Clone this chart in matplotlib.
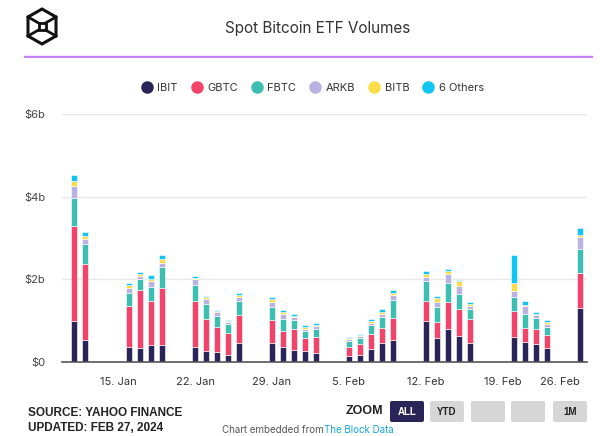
import pandas as pd
import matplotlib.pyplot as plt
import matplotlib.dates as mdates
from matplotlib.lines import Line2D
from matplotlib.patches import FancyBboxPatch, Polygon

plt.rcParams['font.family'] = ['Inter', 'DejaVu Sans']

# daily volumes, $ billions
dates = pd.to_datetime([
    '2024-01-11', '2024-01-12', '2024-01-16', '2024-01-17', '2024-01-18', '2024-01-19',
    '2024-01-22', '2024-01-23', '2024-01-24', '2024-01-25', '2024-01-26',
    '2024-01-29', '2024-01-30', '2024-01-31', '2024-02-01', '2024-02-02',
    '2024-02-05', '2024-02-06', '2024-02-07', '2024-02-08', '2024-02-09',
    '2024-02-12', '2024-02-13', '2024-02-14', '2024-02-15', '2024-02-16',
    '2024-02-20', '2024-02-21', '2024-02-22', '2024-02-23', '2024-02-26'])
ibit = [0.99, 0.53, 0.36, 0.34, 0.40, 0.40, 0.37, 0.27, 0.23, 0.18, 0.45,
        0.45, 0.37, 0.29, 0.27, 0.22, 0.14, 0.17, 0.32, 0.45, 0.54,
        0.99, 0.57, 0.81, 0.64, 0.46, 0.61, 0.48, 0.43, 0.33, 1.30]
gbtc = [2.29, 1.85, 1.00, 1.40, 1.07, 1.38, 1.10, 0.77, 0.61, 0.52, 0.68,
        0.56, 0.39, 0.51, 0.32, 0.39, 0.23, 0.26, 0.35, 0.38, 0.53,
        0.48, 0.40, 0.64, 0.64, 0.58, 0.62, 0.35, 0.36, 0.32, 0.86]
fbtc = [0.69, 0.47, 0.32, 0.28, 0.34, 0.51, 0.40, 0.37, 0.27, 0.22, 0.34,
        0.32, 0.28, 0.21, 0.16, 0.19, 0.13, 0.14, 0.22, 0.27, 0.43,
        0.48, 0.35, 0.46, 0.37, 0.24, 0.34, 0.32, 0.27, 0.20, 0.58]
arkb = [0.30, 0.12, 0.12, 0.06, 0.14, 0.11, 0.13, 0.11, 0.10, 0.05, 0.10,
        0.13, 0.11, 0.08, 0.06, 0.06, 0.05, 0.06, 0.06, 0.07, 0.11,
        0.10, 0.13, 0.21, 0.19, 0.07, 0.14, 0.20, 0.08, 0.08, 0.28]
bitb = [0.10, 0.08, 0.06, 0.04, 0.06, 0.10, 0.04, 0.05, 0.03, 0.02, 0.05,
        0.06, 0.05, 0.03, 0.03, 0.03, 0.02, 0.02, 0.04, 0.05, 0.06,
        0.08, 0.09, 0.07, 0.11, 0.05, 0.19, 0.04, 0.03, 0.03, 0.06]
others = [0.16, 0.10, 0.06, 0.05, 0.10, 0.09, 0.05, 0.02, 0.02, 0.03, 0.04,
          0.05, 0.06, 0.05, 0.06, 0.05, 0.04, 0.02, 0.06, 0.06, 0.07,
          0.08, 0.05, 0.07, 0.04, 0.05, 0.68, 0.08, 0.05, 0.05, 0.17]

names = ['IBIT', 'GBTC', 'FBTC', 'ARKB', 'BITB', '6 Others']
colors = ['#2a2458', '#f2436b', '#3cbfb1', '#b9b2e3', '#fbdd4b', '#12c5f1']
series = [ibit, gbtc, fbtc, arkb, bitb, others]
yticks = [0, 2, 4, 6]
ytick_labels = ['$0', '$2b', '$4b', '$6b']

fig = plt.figure(figsize=(6, 4.36), dpi=100)
ax = fig.add_axes([62 / 600, 74 / 436, 525 / 600, 248 / 436])

bottom = [0.0] * len(dates)
for vals, col in zip(series, colors):
    ax.bar(dates, vals, width=0.58, bottom=bottom, color=col,
           edgecolor='white', linewidth=0.4, zorder=3)
    bottom = [b + v for b, v in zip(bottom, vals)]

ax.set_ylim(0, 6)
ax.set_yticks(yticks)
ax.set_yticklabels(ytick_labels)
ax.set_xlim(dates[0] - pd.Timedelta(days=1.1), dates[-1] + pd.Timedelta(days=0.65))
ax.xaxis.set_major_locator(mdates.WeekdayLocator(byweekday=mdates.MO))
ax.xaxis.set_major_formatter(mdates.DateFormatter('%-d. %b'))
ax.grid(axis='y', color='#e8e8e8', linewidth=1, zorder=0)
for s in ['top', 'right', 'left']:
    ax.spines[s].set_visible(False)
ax.spines['bottom'].set_color('#555555')
ax.spines['bottom'].set_linewidth(1.2)
ax.spines['bottom'].set_zorder(4)
ax.tick_params(axis='both', length=0, labelsize=8, colors='#444444')
ax.tick_params(axis='x', pad=11)
ax.tick_params(axis='y', pad=12)
for lab in ax.get_xticklabels():
    lab.set_color('#333333')
xl = ax.get_xticklabels()
xl[-1].set_horizontalalignment('right')
xl[-1].set_x(mdates.date2num(dates[-1]) + 1.7)

# overlay in pixel coordinates for the decorations
ov = fig.add_axes([0, 0, 1, 1], zorder=-1)
ov.set_xlim(0, 600)
ov.set_ylim(436, 0)
ov.axis('off')

# logo
hexagon = [(42, 9), (56, 17), (56, 36), (42, 44), (28, 36), (28, 17)]
ov.add_patch(Polygon(hexagon, closed=True, fill=False, edgecolor='#111111',
                     linewidth=2.2, joinstyle='miter'))
sq = [(38.5, 23), (45.5, 23), (45.5, 30), (38.5, 30)]
ov.add_patch(Polygon(sq, closed=True, fill=False, edgecolor='#111111', linewidth=2))
for (x0, y0), (x1, y1) in zip([hexagon[5], hexagon[1], hexagon[2], hexagon[4]],
                              [sq[0], sq[1], sq[2], sq[3]]):
    ov.plot([x0, x1], [y0, y1], color='#111111', lw=2)

ov.text(318, 28, 'Spot Bitcoin ETF Volumes', ha='center', va='center',
        fontsize=11, color='#333333')
ov.plot([25, 592], [55, 55], color='#f5e6fb', lw=1)
ov.plot([25, 592], [57, 57], color='#c680f5', lw=1.4)

handles = [Line2D([], [], marker='o', linestyle='', markersize=8,
                  markerfacecolor=c, markeredgecolor=c) for c in colors]
fig.legend(handles, names, loc='center', bbox_to_anchor=(312 / 600, 1 - 88 / 436),
           ncol=6, frameon=False, fontsize=8, handletextpad=0.35, handlelength=1.2,
           columnspacing=1.1, labelcolor='#333333')

ov.text(28, 413, 'SOURCE: YAHOO FINANCE', fontsize=8.5, fontweight='bold',
        family='Liberation Sans', color='#222222', va='center')
ov.text(28, 428, 'UPDATED: FEB 27, 2024', fontsize=8.5, fontweight='bold',
        family='Liberation Sans', color='#222222', va='center')
ov.text(383, 411, 'ZOOM', fontsize=9, fontweight='bold', family='Liberation Sans',
        color='#222222', va='center', ha='right')

buttons = [('ALL', 390), ('YTD', 430), ('', 471), ('', 511), ('1M', 553)]
for label, x0 in buttons:
    fc = '#2a2458' if label == 'ALL' else '#d6d6d6'
    tc = 'white' if label == 'ALL' else '#222222'
    ov.add_patch(FancyBboxPatch((x0, 401), 34, 21, boxstyle='round,pad=0,rounding_size=2',
                                facecolor=fc, edgecolor='none'))
    ov.text(x0 + 17, 412, label, ha='center', va='center', fontsize=7,
            fontweight='bold', family='Liberation Sans', color=tc)

ov.text(222, 430, 'Chart embedded from', fontsize=7, color='#555555', va='center')
ov.text(324, 430, 'The Block Data', fontsize=7, color='#12a5e0', va='center')

fig.savefig('out.png', dpi=100)
